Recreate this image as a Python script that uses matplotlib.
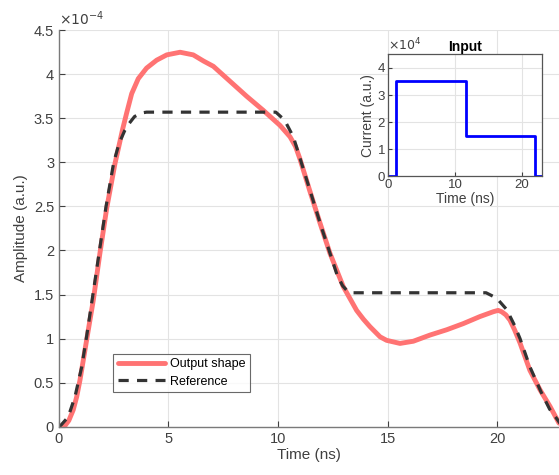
import numpy as np
import matplotlib.pyplot as plt

plt.rcParams['font.family'] = ['Liberation Sans', 'DejaVu Sans']

# Output shape (amplitude in units of 1e-4)
t_out = [0, 0.27, 0.45, 0.65, 0.81, 0.96, 1.1, 1.26, 1.57, 1.87, 2.18, 2.56, 2.75, 2.91,
         3.09, 3.32, 3.62, 4.0, 4.46, 4.92, 5.53, 6.13, 6.6, 7.05, 7.81, 8.57, 9.33,
         10.09, 10.55, 10.8, 11.0, 11.46, 11.92, 12.37, 12.98, 13.59, 13.9, 14.2, 14.66,
         14.96, 15.57, 16.18, 16.94, 17.7, 18.46, 19.22, 19.83, 20.05, 20.21, 20.4, 20.59,
         20.8, 21.05, 21.5, 21.96, 22.42, 22.83]
v_out = [0, 0.01, 0.07, 0.19, 0.34, 0.53, 0.74, 0.98, 1.44, 1.97, 2.48, 2.99, 3.2, 3.38,
         3.56, 3.78, 3.95, 4.07, 4.16, 4.22, 4.25, 4.22, 4.15, 4.09, 3.92, 3.75, 3.59,
         3.42, 3.29, 3.18, 3.04, 2.67, 2.31, 1.97, 1.59, 1.32, 1.22, 1.135, 1.02,
         0.98, 0.945, 0.97, 1.04, 1.10, 1.17, 1.25, 1.305, 1.32, 1.305, 1.27, 1.21,
         1.10, 0.95, 0.64, 0.42, 0.23, 0.04]

# Reference shape (amplitude in units of 1e-4)
t_ref = [0, 0.1, 0.42, 0.73, 1.04, 1.26, 1.55, 1.85, 2.15, 2.5, 2.75, 3.0, 3.2, 3.45,
         3.75, 4.0, 9.9, 10.3, 10.7, 11.0, 11.5, 12.0, 12.4, 12.7, 12.95, 13.2, 13.4,
         19.5, 19.98, 20.44, 20.8, 21.05, 21.5, 22.0, 22.4, 22.7, 22.9]
v_ref = [0, 0.02, 0.11, 0.34, 0.68, 1.02, 1.5, 2.0, 2.5, 3.0, 3.22, 3.36, 3.44, 3.52,
         3.56, 3.57, 3.57, 3.48, 3.29, 3.05, 2.65, 2.25, 1.95, 1.72, 1.6, 1.53, 1.52,
         1.52, 1.46, 1.33, 1.15, 1.0, 0.68, 0.4, 0.2, 0.1, 0.03]

# Input current (units of 1e4)
t_in = [0, 1.2, 1.2, 11.7, 11.7, 22.0, 22.0, 23.0]
i_in = [0, 0, 3.5, 3.5, 1.5, 1.5, 0, 0]

fig = plt.figure(figsize=(5.59, 4.75), dpi=100)
ax = fig.add_axes([0.1055, 0.1017, 0.8945, 0.8347])

grey = '#404040'
ax.grid(True, color='#e3e3e3', linewidth=0.8)
ax.set_axisbelow(True)
ax.plot(t_out, v_out, color='#ff7373', linewidth=3.5, label='Output shape',
        solid_capstyle='round', solid_joinstyle='round')
ax.plot(t_ref, v_ref, color='#333333', linewidth=2.3, linestyle=(0, (3.2, 2.6)), label='Reference')
ax.set_xlim(0, 22.83)
ax.set_ylim(0, 4.5)
ax.set_xticks([0, 5, 10, 15, 20])
ax.set_yticks(np.arange(0, 4.51, 0.5))
ax.set_yticklabels(['%g' % v for v in np.arange(0, 4.51, 0.5)])
ax.tick_params(direction='in', length=4, labelsize=10.5, colors=grey, width=0.8)
for s in ['top', 'right']:
    ax.spines[s].set_visible(False)
for s in ['left', 'bottom']:
    ax.spines[s].set_color('#7a7a7a')
    ax.spines[s].set_linewidth(1.0)
ax.set_xlabel('Time (ns)', fontsize=11, color=grey, labelpad=2)
ax.set_ylabel('Amplitude (a.u.)', fontsize=11, color=grey, labelpad=4)
ax.text(0.0, 1.005, r'$\times10^{-4}$', transform=ax.transAxes, fontsize=10, color=grey,
        ha='left', va='bottom')

leg = ax.legend(loc='lower left', bbox_to_anchor=(0.109, 0.087), fontsize=9,
                frameon=True, fancybox=False, edgecolor='#444444', handlelength=3.8,
                borderpad=0.35, labelspacing=0.45, handletextpad=0.4, borderaxespad=0)
leg.get_frame().set_linewidth(0.8)

# inset
ins = fig.add_axes([0.694, 0.6288, 0.2755, 0.2568])
ins.set_facecolor('white')
ins.grid(True, color='#e3e3e3', linewidth=0.8)
ins.set_axisbelow(True)
ins.plot(t_in, i_in, color='#0000ff', linewidth=2)
ins.set_xlim(0, 23)
ins.set_ylim(0, 4.5)
ins.set_xticks([0, 10, 20])
ins.set_yticks([0, 1, 2, 3, 4])
ins.tick_params(direction='in', length=3, labelsize=9.5, colors=grey, width=0.8, pad=2)
for s in ins.spines.values():
    s.set_color('#555555')
    s.set_linewidth(0.9)
ins.set_xlabel('Time (ns)', fontsize=10, color=grey, labelpad=1)
ins.set_ylabel('Current (a.u.)', fontsize=10, color=grey, labelpad=2)
ins.set_title('Input', fontsize=10, fontweight='bold', pad=2)
ins.text(0.0, 1.01, r'$\times10^{4}$', transform=ins.transAxes, fontsize=9, color=grey,
         ha='left', va='bottom')

fig.savefig('out.png', dpi=100)
